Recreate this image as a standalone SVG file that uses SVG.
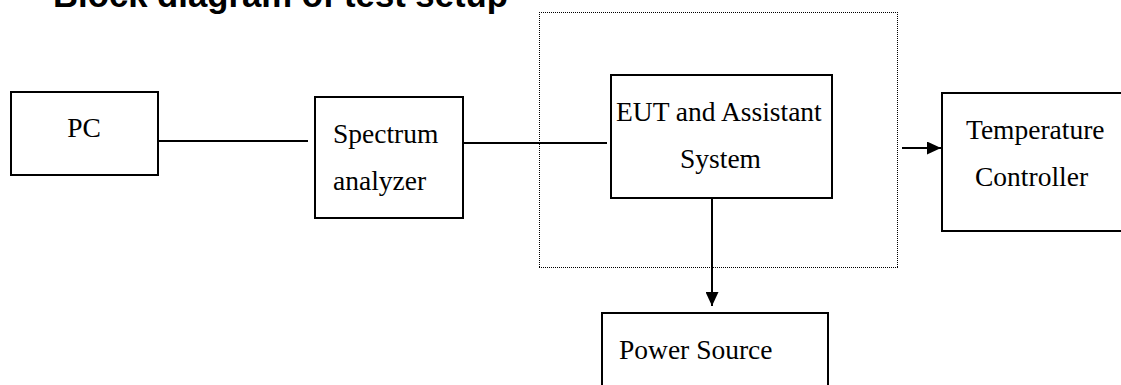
<svg xmlns="http://www.w3.org/2000/svg" width="1121" height="385" viewBox="0 0 1121 385">
<style>
.box{fill:#fff;stroke:#000;stroke-width:2}
.lbl{font-family:"Liberation Serif","Times New Roman",serif;font-size:27.5px;fill:#000}
.ttl{font-family:"Liberation Sans",Arial,sans-serif;font-size:34.7px;font-weight:bold;fill:#000}
.wire{stroke:#000;stroke-width:2;fill:none}
.dot{stroke:#000;stroke-width:1;stroke-dasharray:1 1;fill:none}
</style>
<defs>
<marker id="ah" markerWidth="14" markerHeight="13" refX="14" refY="6.5" orient="auto" markerUnits="userSpaceOnUse">
<path d="M0,0 L14,6.5 L0,13 Z" fill="#000"/>
</marker>
</defs>
<rect width="1121" height="385" fill="#fff"/>
<text class="ttl" x="53" y="6.5">Block diagram of test setup</text>
<g id="enclosure">
<line class="dot" x1="539" y1="12.5" x2="898" y2="12.5"/>
<line class="dot" x1="539" y1="267.5" x2="898" y2="267.5"/>
<line class="dot" x1="539.5" y1="12" x2="539.5" y2="268"/>
<line class="dot" x1="897.5" y1="12" x2="897.5" y2="268"/>
</g>
<g id="connectors">
<line class="wire" x1="158" y1="141" x2="308" y2="141"/>
<line class="wire" x1="463" y1="143" x2="607" y2="143"/>
<line class="wire" x1="712" y1="196" x2="712" y2="306" marker-end="url(#ah)"/>
<line class="wire" x1="902" y1="148" x2="941" y2="148" marker-end="url(#ah)"/>
</g>
<g id="pc">
<rect class="box" x="11" y="92" width="147" height="83"/>
<text class="lbl" x="84" y="137" text-anchor="middle">PC</text>
</g>
<g id="spectrum">
<rect class="box" x="315" y="97" width="148" height="121"/>
<text class="lbl" x="333" y="143">Spectrum</text>
<text class="lbl" x="333" y="190">analyzer</text>
</g>
<g id="eut">
<rect class="box" x="611" y="75" width="221" height="123"/>
<text class="lbl" x="616" y="121">EUT and Assistant</text>
<text class="lbl" x="680" y="168">System</text>
</g>
<g id="temperature">
<rect class="box" x="942" y="93" width="200" height="138"/>
<text class="lbl" x="966" y="139">Temperature</text>
<text class="lbl" x="975" y="186">Controller</text>
</g>
<g id="power">
<rect class="box" x="602" y="313" width="226" height="100"/>
<text class="lbl" x="619" y="359">Power Source</text>
</g>
</svg>
